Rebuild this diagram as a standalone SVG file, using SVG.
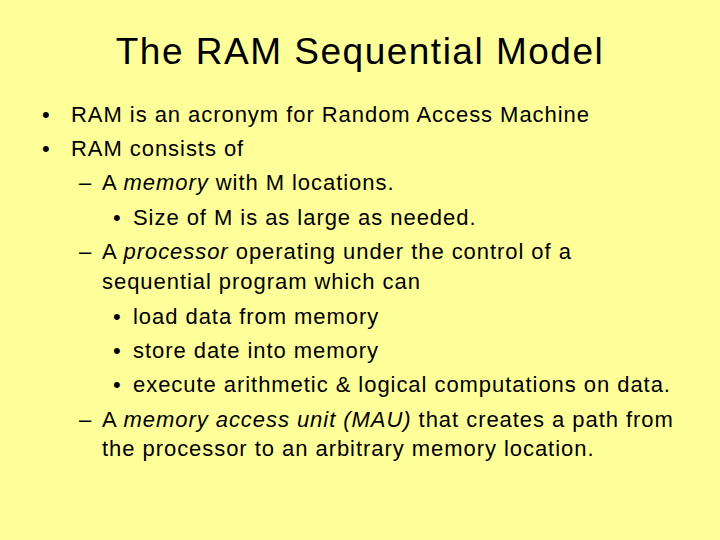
<svg xmlns="http://www.w3.org/2000/svg" width="720" height="540" viewBox="0 0 720 540">
<style>
text{font-family:"Liberation Sans",Arial,sans-serif;fill:#000}
.b{font-size:22px;letter-spacing:0.95px}
.t{font-size:37px;letter-spacing:1.5px}
</style>
<rect width="720" height="540" fill="#FFFF99"/>
<g id="title"><text class="t" x="360" y="64" text-anchor="middle">The RAM Sequential Model</text></g>
<g id="body" class="b">
<text class="b" x="42" y="122">•</text><text class="b" x="71" y="122">RAM is an acronym for Random Access Machine</text>
<text class="b" x="42" y="156">•</text><text class="b" x="71" y="156">RAM consists of</text>
<text class="b" x="79" y="190">–</text><text class="b" x="102" y="190">A <tspan font-style="italic">memory</tspan> with M locations.</text>
<text class="b" x="113" y="225">•</text><text class="b" x="133" y="225">Size of M is as large as needed.</text>
<text class="b" x="79" y="259">–</text><text class="b" x="102" y="259">A <tspan font-style="italic">processor</tspan> operating under the control of a</text>
<text class="b" x="102" y="289">sequential program which can</text>
<text class="b" x="113" y="324">•</text><text class="b" x="133" y="324">load data from memory</text>
<text class="b" x="113" y="358">•</text><text class="b" x="133" y="358">store date into memory</text>
<text class="b" x="113" y="392">•</text><text class="b" x="133" y="392">execute arithmetic &amp; logical computations on data.</text>
<text class="b" x="79" y="427">–</text><text class="b" x="102" y="427">A <tspan font-style="italic">memory access unit (MAU)</tspan> that creates a path from</text>
<text class="b" x="102" y="456">the processor to an arbitrary memory location.</text>
</g>
</svg>
